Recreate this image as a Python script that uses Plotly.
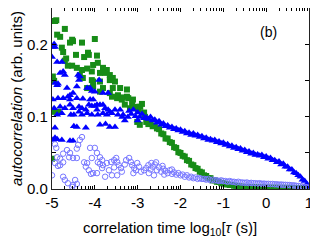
import math
import plotly.graph_objects as go

# ---------------- data ----------------
# sparse early-time points, (log10 tau, autocorrelation)
green_scatter = [
    (-4.93, 0.233), (-4.90, 0.234), (-4.70, 0.222), (-4.88, 0.214), (-4.81, 0.211),
    (-4.53, 0.207), (-4.58, 0.203), (-4.51, 0.205), (-4.30, 0.203), (-4.00, 0.208),
    (-4.77, 0.196), (-4.74, 0.190), (-4.44, 0.186), (-4.25, 0.183), (-4.14, 0.186),
    (-3.95, 0.185), (-4.16, 0.189), (-4.67, 0.181), (-4.70, 0.178), (-4.63, 0.171),
    (-4.53, 0.171), (-4.42, 0.168), (-4.30, 0.165), (-4.18, 0.167), (-4.04, 0.172),
    (-3.93, 0.175), (-3.81, 0.168), (-4.07, 0.163), (-3.88, 0.161), (-3.76, 0.161),
    (-3.65, 0.158), (-3.72, 0.165), (-4.98, 0.156), (-4.95, 0.150), (-4.35, 0.158),
    (-4.28, 0.154), (-4.07, 0.151), (-4.04, 0.149), (-3.88, 0.149), (-3.65, 0.151),
    (-3.53, 0.149), (-3.58, 0.154), (-4.18, 0.140), (-4.04, 0.142), (-3.81, 0.140),
    (-3.58, 0.140), (-3.41, 0.140), (-3.25, 0.138), (-3.88, 0.135), (-3.65, 0.133),
    (-3.46, 0.130), (-3.25, 0.128), (-3.11, 0.124), (-3.22, 0.126), (-3.36, 0.127),
    (-3.13, 0.119), (-3.01, 0.114), (-2.94, 0.114), (-2.90, 0.118), (-2.85, 0.106),
    (-4.86, 0.107), (-4.98, 0.107), (-5.00, 0.042), (-3.60, 0.128), (-3.48, 0.126),
    (-3.37, 0.124), (-3.06, 0.113), (-2.99, 0.110), (-2.83, 0.100), (-2.95, 0.089),
    (-3.01, 0.093), (-3.18, 0.112), (-3.30, 0.117),
]

blue_scatter = [
    (-4.98, 0.197), (-4.93, 0.197), (-4.95, 0.201), (-5.00, 0.183), (-4.88, 0.176),
    (-4.77, 0.176), (-4.81, 0.161), (-4.74, 0.163), (-4.70, 0.158), (-4.39, 0.158),
    (-4.35, 0.156), (-4.37, 0.151), (-4.93, 0.147), (-4.88, 0.144), (-4.86, 0.146),
    (-3.90, 0.151), (-4.65, 0.140), (-4.42, 0.142), (-4.18, 0.140), (-4.11, 0.140),
    (-4.07, 0.136), (-4.00, 0.135), (-3.81, 0.133), (-3.69, 0.133), (-4.58, 0.130),
    (-4.51, 0.133), (-4.98, 0.124), (-4.86, 0.126), (-4.74, 0.126), (-4.63, 0.128),
    (-4.58, 0.124), (-4.42, 0.126), (-4.28, 0.125), (-4.11, 0.124), (-4.04, 0.124),
    (-4.95, 0.112), (-4.81, 0.114), (-4.70, 0.112), (-4.58, 0.117), (-4.51, 0.112),
    (-4.37, 0.114), (-4.30, 0.112), (-4.21, 0.110), (-4.14, 0.117), (-4.07, 0.115),
    (-4.00, 0.115), (-3.88, 0.117), (-3.95, 0.110), (-3.76, 0.112), (-3.69, 0.110),
    (-4.88, 0.103), (-4.77, 0.105), (-4.56, 0.103), (-4.49, 0.103), (-4.37, 0.107),
    (-4.30, 0.103), (-4.18, 0.105), (-4.07, 0.103), (-3.93, 0.103), (-3.81, 0.105),
    (-3.72, 0.103), (-3.65, 0.107), (-3.53, 0.110), (-3.46, 0.103), (-3.36, 0.100),
    (-4.93, 0.085), (-4.49, 0.087), (-4.42, 0.086), (-4.21, 0.085), (-3.65, 0.086),
    (-3.88, 0.089), (-4.98, 0.068), (-4.77, 0.068), (-4.58, 0.067), (-4.51, 0.067),
    (-4.93, 0.071), (-4.88, 0.069), (-3.41, 0.110), (-3.34, 0.103), (-3.23, 0.100),
    (-3.20, 0.108), (-3.15, 0.104), (-3.10, 0.110), (-3.05, 0.101), (-3.00, 0.106),
    (-2.95, 0.100), (-2.90, 0.104), (-2.85, 0.098), (-3.30, 0.095), (-3.53, 0.086),
    (-3.75, 0.090), (-3.60, 0.105), (-3.00, 0.095), (-3.95, 0.117), (-3.81, 0.117),
]

circle_scatter = [
    (-5.00, 0.019), (-4.93, 0.062), (-4.90, 0.057), (-4.88, 0.044), (-4.93, 0.036),
    (-4.86, 0.032), (-4.81, 0.042), (-4.74, 0.049), (-4.81, 0.033), (-4.74, 0.037),
    (-4.74, 0.017), (-4.70, 0.0125), (-4.63, 0.008), (-4.53, 0.003), (-4.65, 0.054),
    (-4.58, 0.050), (-4.60, 0.044), (-4.51, 0.043), (-4.42, 0.043), (-4.30, 0.072),
    (-4.35, 0.068), (-4.39, 0.061), (-4.42, 0.056), (-4.46, 0.0125), (-4.42, 0.007),
    (-4.51, 0.0055), (-4.25, 0.037), (-4.21, 0.031), (-4.14, 0.026), (-4.09, 0.021),
    (-4.11, 0.057), (-4.00, 0.057), (-3.95, 0.050), (-3.88, 0.044), (-3.83, 0.040),
    (-3.93, 0.037), (-3.81, 0.033), (-3.83, 0.029), (-3.95, 0.022), (-4.04, 0.022),
    (-3.76, 0.017), (-4.07, 0.043), (-4.18, 0.036), (-3.88, 0.035), (-3.72, 0.036),
    (-3.62, 0.0375), (-3.55, 0.040), (-3.50, 0.043), (-3.48, 0.0375), (-3.44, 0.033),
    (-3.39, 0.029), (-3.37, 0.024), (-3.48, 0.019), (-3.60, 0.019), (-3.67, 0.026),
    (-3.27, 0.040), (-3.20, 0.043), (-3.16, 0.0375), (-3.13, 0.033), (-3.08, 0.029),
    (-3.04, 0.026), (-3.01, 0.036), (-2.97, 0.031), (-2.92, 0.024), (-2.85, 0.026),
    (-3.55, 0.030), (-3.30, 0.034), (-3.10, 0.022), (-2.62, 0.019), (-2.68, 0.036),
    (-2.57, 0.037), (-2.42, 0.032), (-2.38, 0.020), (-2.20, 0.027), (-2.74, 0.022),
]

# dense late-time bands
band_x = [
    -2.80, -2.75, -2.70, -2.65, -2.60, -2.55, -2.50, -2.45, -2.40, -2.35,
    -2.30, -2.25, -2.20, -2.15, -2.10, -2.05, -2.00, -1.95, -1.90, -1.85,
    -1.80, -1.75, -1.70, -1.65, -1.60, -1.55, -1.50, -1.45, -1.40, -1.35,
    -1.30, -1.25, -1.20, -1.15, -1.10, -1.05, -1.00, -0.95, -0.90, -0.85,
    -0.80, -0.75, -0.70, -0.65, -0.60, -0.55, -0.50, -0.45, -0.40, -0.35,
    -0.30, -0.25, -0.20, -0.15, -0.10, -0.05, 0.00, 0.05, 0.10, 0.15,
    0.20, 0.25, 0.30, 0.35, 0.40, 0.45, 0.50, 0.55, 0.60, 0.65,
    0.70, 0.75, 0.80, 0.85, 0.90, 0.95, 1.00,
]
blue_band_y = [
    0.099, 0.097, 0.100, 0.095, 0.096, 0.092, 0.094, 0.089, 0.091, 0.087,
    0.088, 0.085, 0.086, 0.083, 0.084, 0.081, 0.082, 0.079, 0.080, 0.077,
    0.078, 0.075, 0.077, 0.074, 0.075, 0.072, 0.073, 0.070, 0.071, 0.068,
    0.069, 0.067, 0.068, 0.065, 0.066, 0.063, 0.064, 0.061, 0.062, 0.059,
    0.060, 0.057, 0.058, 0.055, 0.056, 0.053, 0.054, 0.051, 0.052, 0.049,
    0.050, 0.047, 0.048, 0.046, 0.047, 0.044, 0.045, 0.042, 0.043, 0.040,
    0.040, 0.037, 0.038, 0.034, 0.035, 0.031, 0.031, 0.027, 0.027, 0.023,
    0.022, 0.019, 0.017, 0.013, 0.011, 0.007, 0.003,
]
green_band_y = [
    0.093, 0.090, 0.091, 0.087, 0.088, 0.084, 0.083, 0.077, 0.076, 0.070,
    0.070, 0.065, 0.064, 0.058, 0.057, 0.051, 0.050, 0.046, 0.045, 0.040,
    0.039, 0.034, 0.033, 0.029, 0.028, 0.024, 0.023, 0.019, 0.018, 0.015,
    0.015, 0.012, 0.012, 0.010, 0.010, 0.008, 0.008, 0.0065, 0.0065, 0.0055,
    0.0055, 0.0045, 0.0045, 0.0040, 0.0035, 0.0030, 0.0030, 0.0028, 0.0025, 0.0024,
    0.0023, 0.0022, 0.0021, 0.0020, 0.0020, 0.0019, 0.0019, 0.0018, 0.0018, 0.0017,
    0.0017, 0.0017, 0.0016, 0.0016, 0.0016, 0.0015, 0.0015, 0.0015, 0.0014, 0.0014,
    0.0014, 0.0013, 0.0013, 0.0013, 0.0012, 0.0012, 0.0012,
]
circle_band_y = [
    0.029, 0.033, 0.027, 0.031, 0.034, 0.026, 0.030, 0.024, 0.028, 0.025,
    0.022, 0.026, 0.021, 0.023, 0.020, 0.022, 0.019, 0.020, 0.017, 0.019,
    0.016, 0.017, 0.015, 0.016, 0.014, 0.015, 0.014, 0.014, 0.013, 0.014,
    0.012, 0.013, 0.012, 0.012, 0.011, 0.012, 0.011, 0.011, 0.010, 0.011,
    0.010, 0.010, 0.009, 0.010, 0.009, 0.009, 0.0085, 0.009, 0.008, 0.0085,
    0.008, 0.008, 0.0075, 0.008, 0.0072, 0.0075, 0.007, 0.0072, 0.0068, 0.007,
    0.0065, 0.0065, 0.006, 0.0062, 0.0058, 0.0058, 0.0055, 0.0055, 0.005, 0.005,
    0.0045, 0.0042, 0.004, 0.0035, 0.003, 0.0025, 0.0015,
]

x_ticks = [-5, -4, -3, -2, -1, 0, 1]
x_tick_labels = ["-5", "-4", "-3", "-2", "-1", "0", "1"]
y_ticks = [0.0, 0.1, 0.2]
y_tick_labels = ["0.0", "0.1", "0.2"]

# ---------------- figure ----------------
def series(scatter, band_y):
    xs = [p[0] for p in scatter] + list(band_x)
    ys = [p[1] for p in scatter] + list(band_y)
    return xs, ys

gx, gy = series(green_scatter, green_band_y)
bx, by = series(blue_scatter, blue_band_y)
cx, cy = series(circle_scatter, circle_band_y)

FONT = "Liberation Sans, Arial, Helvetica, sans-serif"
GREEN = "#178c17"
BLUE = "#0000ff"
LAV = "#7878ff"

fig = go.Figure()
fig.add_trace(go.Scatter(x=gx, y=gy, mode="markers", showlegend=False, hoverinfo="skip",
                         marker=dict(symbol="square", size=6, color=GREEN, line=dict(width=0))))
fig.add_trace(go.Scatter(x=bx, y=by, mode="markers", showlegend=False, hoverinfo="skip",
                         marker=dict(symbol="triangle-up", size=7, color=BLUE, line=dict(width=0))))
fig.add_trace(go.Scatter(x=cx, y=cy, mode="markers", showlegend=False, hoverinfo="skip",
                         marker=dict(symbol="circle-open", size=5.5, color=LAV, line=dict(width=1, color=LAV))))

minor_x = [d + math.log10(k) for d in range(x_ticks[0], x_ticks[-1]) for k in range(2, 10)]

# the page body adds an 8px margin, so the figure is sized to fit the 318x242 window
fig.update_layout(
    width=310, height=234,
    margin=dict(l=44, r=9, t=0, b=53),
    paper_bgcolor="white", plot_bgcolor="white",
    font=dict(family=FONT, size=15, color="black"),
    xaxis=dict(range=[-5, 1.0], tickmode="array", tickvals=x_ticks, ticktext=x_tick_labels,
               showgrid=False, zeroline=False, automargin=False,
               ticks="inside", ticklen=4, tickwidth=1, tickcolor="black",
               minor=dict(tickmode="array", tickvals=minor_x, ticks="inside", ticklen=2.5,
                          tickwidth=1, tickcolor="black", showgrid=False),
               showline=True, mirror="ticks", linecolor="#222222", linewidth=1.2,
               tickfont=dict(size=15)),
    yaxis=dict(range=[0, 0.251], tickmode="array", tickvals=y_ticks, ticktext=y_tick_labels,
               showgrid=False, zeroline=False, automargin=False,
               ticks="inside", ticklen=4, tickwidth=1, tickcolor="black",
               minor=dict(dtick=0.05, tick0=0, ticks="inside", ticklen=4, tickwidth=1,
                          tickcolor="black", showgrid=False),
               showline=True, mirror="ticks", linecolor="#222222", linewidth=1.2,
               tickfont=dict(size=15),
               title=dict(text="<i>autocorrelation</i> (arb. units)", font=dict(size=15), standoff=4)),
    annotations=[
        dict(text="(b)", x=0.885, y=0.92, xref="paper", yref="paper", showarrow=False,
             font=dict(size=14, color="black")),
        dict(text="correlation time log<sub>10</sub>[<i>τ</i> (s)]", x=0.46, y=-0.22,
             xref="paper", yref="paper", xanchor="center", yanchor="middle", showarrow=False,
             font=dict(size=15, color="black")),
    ],
)

fig.write_html("out.html")
